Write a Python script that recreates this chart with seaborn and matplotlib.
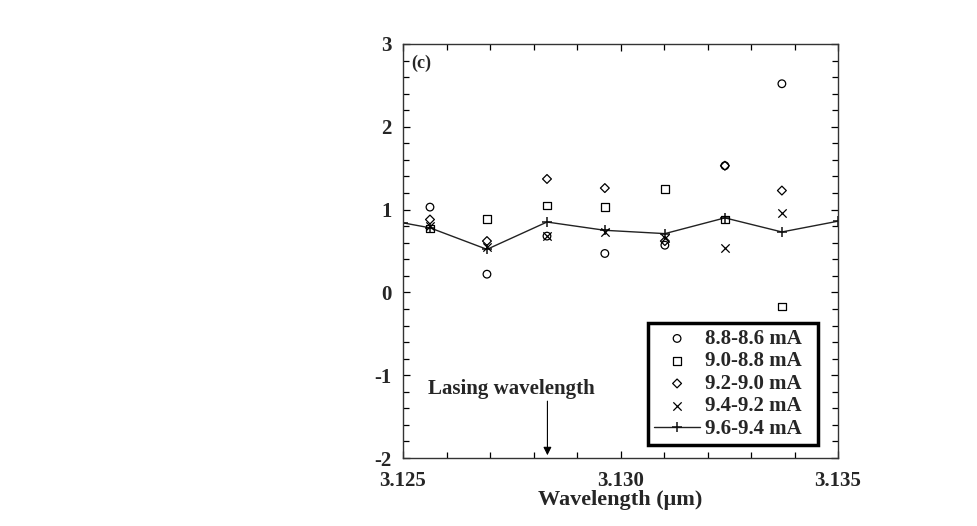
import numpy as np
import pandas as pd
import matplotlib
matplotlib.use("Agg")
import matplotlib.pyplot as plt
import seaborn as sns
from matplotlib.ticker import MultipleLocator

# ---- data ----
wavelength = [3.12562, 3.12693, 3.12831, 3.12964, 3.13102, 3.13240, 3.13371]
s_88_86 = [1.03, 0.22, 0.68, 0.47, 0.57, 1.53, 2.52]
s_90_88 = [0.77, 0.89, 1.05, 1.03, 1.25, 0.88, -0.17]
s_92_90 = [0.88, 0.62, 1.37, 1.26, 0.62, 1.53, 1.23]
s_94_92 = [0.80, 0.55, 0.68, 0.73, 0.66, 0.54, 0.96]
line_wavelength = [3.125, 3.12562, 3.12693, 3.12831, 3.12964, 3.13102, 3.13240, 3.13371, 3.135]
s_96_94 = [0.84, 0.78, 0.52, 0.85, 0.75, 0.71, 0.90, 0.73, 0.86]
labels = ["8.8-8.6 mA", "9.0-8.8 mA", "9.2-9.0 mA", "9.4-9.2 mA", "9.6-9.4 mA"]
lasing_wavelength = 3.12832

sns.set_theme(style="ticks")
plt.rcParams["font.family"] = ["Liberation Serif", "DejaVu Serif"]
plt.rcParams["font.weight"] = "bold"
plt.rcParams["axes.unicode_minus"] = False

fig = plt.figure(figsize=(9.78, 5.26), dpi=100)
ax = fig.add_axes([403/978, 1-458/526, 435/978, 414/526])

scatter_series = [(s_88_86, "o", 5.5), (s_90_88, "s", 5.5), (s_92_90, "D", 4.5), (s_94_92, "x", 6)]
for (vals, mk, ms), lab in zip(scatter_series, labels[:4]):
    df = pd.DataFrame({"wl": wavelength, "v": vals})
    if mk == "x":
        sns.scatterplot(data=df, x="wl", y="v", marker=mk, s=ms**2, color="black",
                        linewidth=0.9, ax=ax, label=lab, zorder=3)
    else:
        sns.scatterplot(data=df, x="wl", y="v", marker=mk, s=ms**2, facecolor="none",
                        edgecolor="black", linewidth=0.9, ax=ax, label=lab, zorder=3)

dfl = pd.DataFrame({"wl": line_wavelength, "v": s_96_94})
sns.lineplot(data=dfl, x="wl", y="v", color="#222222", linewidth=1.0, marker="+",
             markersize=6.5, markeredgewidth=1.1, markeredgecolor="#111111",
             ax=ax, label=labels[4], zorder=2, estimator=None, sort=False)

ax.set_xlim(3.125, 3.135)
ax.set_ylim(-2, 3)
ax.set_xticks([3.125, 3.130, 3.135])
ax.set_xticklabels(["3.125", "3.130", "3.135"])
ax.set_yticks([-2, -1, 0, 1, 2, 3])
ax.xaxis.set_minor_locator(MultipleLocator(0.001))
ax.yaxis.set_minor_locator(MultipleLocator(0.2))
ax.tick_params(which="both", direction="in", top=True, right=True, labelsize=15,
               width=0.9, color="black")
ax.tick_params(axis="x", pad=9)
ax.tick_params(axis="y", pad=8)
ax.tick_params(which="major", length=5)
ax.tick_params(which="minor", length=4)
for lab in ax.get_xticklabels() + ax.get_yticklabels():
    lab.set_fontweight("bold")
for sp in ax.spines.values():
    sp.set_linewidth(1.0)
    sp.set_color("#333333")

ax.set_xlabel("Wavelength (\u03bcm)", fontsize=16, fontweight="bold", labelpad=0)
ax.set_ylabel("")

ax.text(0.02, 0.975, "(c)", transform=ax.transAxes, fontsize=13, fontweight="bold",
        va="top", ha="left")
ax.text(3.12557, -1.17, "Lasing wavelength", fontsize=15, fontweight="bold",
        va="center", ha="left")
ax.annotate("", xy=(lasing_wavelength, -2.0), xytext=(lasing_wavelength, -1.28),
            arrowprops=dict(arrowstyle="-|>", color="black", lw=0.8, mutation_scale=12))

leg = ax.legend(loc="lower left", bbox_to_anchor=(0.563, 0.031, 0.391, 0.302),
                mode="expand", borderaxespad=0, frameon=True, fancybox=False,
                prop={"family": "Liberation Serif", "weight": "bold", "size": 15},
                handlelength=2.2, handletextpad=0.25, labelspacing=0.12,
                borderpad=0.3, markerscale=1.0)
leg.get_frame().set_edgecolor("black")
leg.get_frame().set_linewidth(2.5)
leg.get_frame().set_facecolor("white")
leg.get_frame().set_alpha(1)

fig.savefig("out.png", dpi=100, facecolor="white")
